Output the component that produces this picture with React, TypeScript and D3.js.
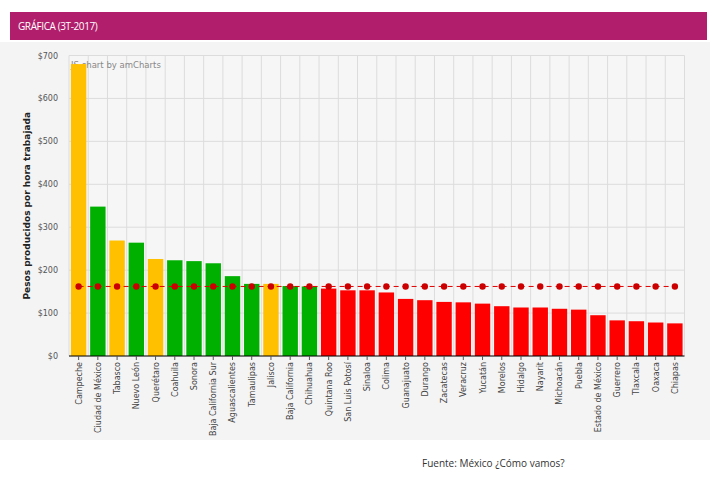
import React from "react";
import * as d3 from "d3";

const states = ["Campeche","Ciudad de México","Tabasco","Nuevo León","Querétaro","Coahuila","Sonora","Baja California Sur","Aguascalientes","Tamaulipas","Jalisco","Baja California","Chihuahua","Quintana Roo","San Luis Potosí","Sinaloa","Colima","Guanajuato","Durango","Zacatecas","Veracruz","Yucatán","Morelos","Hidalgo","Nayarit","Michoacán","Puebla","Estado de México","Guerrero","Tlaxcala","Oaxaca","Chiapas"];
const values = [680,348,269,264,226,223,221,216,186,168,168,163,162,157,153,153,148,133,130,126,125,122,116,113,113,110,108,95,83,81,78,76];
const groups = ["o","g","o","g","o","g","g","g","g","g","o","g","g","r","r","r","r","r","r","r","r","r","r","r","r","r","r","r","r","r","r","r"];
const average = 162;
const yTicks = [0,100,200,300,400,500,600,700];
const colorMap: Record<string,string> = { o: "#FFC000", g: "#00B000", r: "#FF0000" };

export default function App() {
  const W = 722, H = 480;
  const left = 69, right = 684.5, top = 55.5, bottom = 356;
  const x = d3.scaleBand<string>().domain(states).range([left, right]).paddingInner(0.2).paddingOuter(0.1);
  const xb = d3.scaleBand<string>().domain(states).range([left, right]);
  const y = d3.scaleLinear().domain([0, 700]).range([bottom, top]);
  const fmt = (v: number) => "$" + d3.format(",")(v);
  const line = d3.line<string>().x(s => (x(s) as number) + x.bandwidth() / 2).y(() => y(average));
  const font = "'DejaVu Sans', Verdana, sans-serif";
  return (
    <svg width={W} height={H} style={{ position: "absolute", left: 0, top: 0, background: "#fff" }}>
      <rect x={0} y={42} width={710} height={398} fill="#f4f4f4" />
      <rect x={10} y={12} width={697} height={28} fill="#B01E6C" />
      <text x={18} y={29.5} fill="#fff" fontSize={10} fontFamily="'Open Sans', sans-serif" letterSpacing={-0.4}>GRÁFICA (3T-2017)</text>
      <rect x={left} y={top} width={right - left} height={bottom - top} fill="#f6f6f6" />
      {yTicks.map(t => (
        <line key={"h" + t} x1={left} x2={right} y1={y(t)} y2={y(t)} stroke="#dcdcdc" strokeWidth={1} />
      ))}
      {states.map((s, i) => (
        <line key={"v" + i} x1={(xb(s) as number)} x2={(xb(s) as number)} y1={top} y2={bottom} stroke="#dcdcdc" strokeWidth={1} />
      ))}
      <line x1={right} x2={right} y1={top} y2={bottom} stroke="#dcdcdc" />
      <text x={left + 2} y={top + 12} fontSize={8.5} fill="#888" fontFamily={font}>JS chart by amCharts</text>
      {states.map((s, i) => (
        <rect key={"b" + i} x={x(s)} y={y(values[i])} width={x.bandwidth()} height={bottom - y(values[i])} fill={colorMap[groups[i]]} />
      ))}
      <path d={line(states) || ""} fill="none" stroke="#E00000" strokeWidth={1} strokeDasharray="5,4" />
      {states.map((s, i) => (
        <circle key={"c" + i} cx={(x(s) as number) + x.bandwidth() / 2} cy={y(average)} r={3.2} fill="#CC0000" />
      ))}
      <line x1={left} x2={right} y1={bottom} y2={bottom} stroke="#000" strokeWidth={1} />
      {states.map((s, i) => {
        const cx = (x(s) as number) + x.bandwidth() / 2;
        return (
          <g key={"t" + i}>
            <line x1={cx} x2={cx} y1={bottom} y2={bottom + 4} stroke="#555" />
            <text transform={`translate(${cx + 3},${bottom + 6}) rotate(-90)`} textAnchor="end" fontSize={8} fill="#444" fontFamily={font}>{s}</text>
          </g>
        );
      })}
      {yTicks.map(t => (
        <text key={"yl" + t} x={58} y={y(t) + 3} textAnchor="end" fontSize={8} fill="#555" fontFamily={font}>{fmt(t)}</text>
      ))}
      <text transform={`translate(30,${(top + bottom) / 2}) rotate(-90)`} textAnchor="middle" fontSize={9} fontWeight="bold" fill="#222" fontFamily={font}>Pesos producidos por hora trabajada</text>
      <text x={422} y={467} fontSize={10} fill="#333" fontFamily="'Open Sans', sans-serif">Fuente: México ¿Cómo vamos?</text>
    </svg>
  );
}
